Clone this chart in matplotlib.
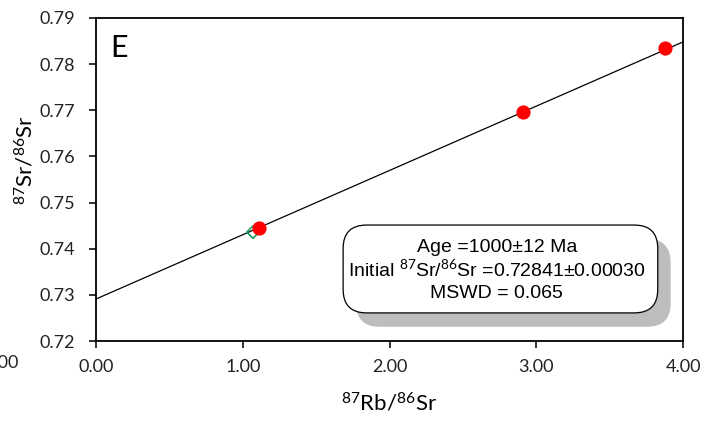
import matplotlib.pyplot as plt
from matplotlib.patches import FancyBboxPatch
import numpy as np

plt.rcParams['font.family'] = ['Lato', 'DejaVu Sans']
plt.rcParams['mathtext.fontset'] = 'custom'
plt.rcParams['mathtext.rm'] = 'Lato'
plt.rcParams['mathtext.it'] = 'Lato'

# data
rb_sr = [1.11, 2.91, 3.88]
sr_sr = [0.7444, 0.7697, 0.7835]
excl_x = [1.07]
excl_y = [0.7436]
intercept = 0.7291
slope = 0.01393
xticks = [0.0, 1.0, 2.0, 3.0, 4.0]
yticks = [0.72, 0.73, 0.74, 0.75, 0.76, 0.77, 0.78, 0.79]

fig = plt.figure(figsize=(7.07, 4.30), dpi=100)
ax = fig.add_axes([96/707, 1-341/430, 587/707, 323/430])

xl = np.array([0.0, 4.0])
ax.plot(xl, intercept + slope*xl, color='black', linewidth=0.9, zorder=2)
ax.scatter(excl_x, excl_y, marker='D', s=40, facecolor='none', edgecolor='#1a9a50', linewidth=1.2, zorder=3)
ax.scatter(rb_sr, sr_sr, marker='o', s=85, color='#ff0000', edgecolor='#ff0000', zorder=4)

ax.set_xlim(0, 4)
ax.set_ylim(0.72, 0.79)
ax.set_xticks(xticks)
ax.set_xticklabels(['%.2f' % v for v in xticks])
ax.set_yticks(yticks)
ax.set_yticklabels(['%.2f' % v for v in yticks])
ax.tick_params(axis='both', labelsize=13, width=1.3, length=5, direction='out', colors='#222222')
ax.tick_params(axis='x', pad=8)
ax.tick_params(axis='y', pad=10)
for s in ax.spines.values():
    s.set_linewidth(1.3)

ax.set_xlabel(r'$^{87}$Rb/$^{86}$Sr', fontsize=16, labelpad=12)
ax.set_ylabel(r'$^{87}$Sr/$^{86}$Sr', fontsize=16, labelpad=8)
ax.yaxis.set_label_coords(-0.1, 0.56)
ax.text(0.024, 0.907, 'E', transform=ax.transAxes, fontsize=22, va='center', ha='left')

# stray label at left edge
fig.text(-0.024, 1-363/430, '0.00', fontsize=13, va='center', ha='left', color='#222222')

# result box with shadow
shadow = FancyBboxPatch((0.443, 0.044), 0.536, 0.272, boxstyle='round,pad=0,rounding_size=0.04',
                        transform=ax.transAxes, facecolor='#bdbdbd', edgecolor='none', zorder=5,
                        mutation_aspect=587/323)
box = FancyBboxPatch((0.421, 0.087), 0.536, 0.272, boxstyle='round,pad=0,rounding_size=0.04',
                     transform=ax.transAxes, facecolor='white', edgecolor='black', linewidth=0.9,
                     zorder=6, mutation_aspect=587/323)
ax.add_patch(shadow)
ax.add_patch(box)
lines = ['Age =1000±12 Ma',
         r'Initial $^{87}$Sr/$^{86}$Sr =0.72841±0.00030',
         'MSWD = 0.065']
ys = [248, 270, 293]
for t, yp in zip(lines, ys):
    ax.text(0.683, (341-yp)/323, t, transform=ax.transAxes, ha='center', va='center',
            fontsize=14, family=['Liberation Sans', 'DejaVu Sans'], zorder=7)

plt.savefig('out.png', dpi=100)
